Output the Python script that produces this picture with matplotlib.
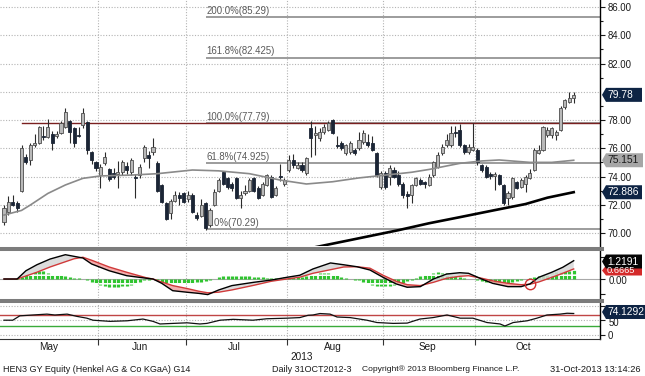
import matplotlib
matplotlib.use('Agg')
import matplotlib.pyplot as plt
import matplotlib.transforms as mtrans
from matplotlib.lines import Line2D
from matplotlib.patches import Polygon
import numpy as np

plt.rcParams['font.family'] = ['Liberation Sans', 'DejaVu Sans']

# ---------------- data ----------------
opens = [70.8, 71.5, 72.2, 72.1, 73.0, 75.4, 75.2, 76.2, 76.4, 76.9, 76.8, 77.0, 76.9, 77.1, 77.5, 77.9, 77.4, 76.95, 77.65, 77.85,
         75.7, 75.0, 74.1, 74.95, 74.5, 74.25, 74.2, 74.3, 74.75, 74.3, 74.0, 74.1, 75.3, 75.5, 75.7, 74.95, 73.4, 72.1, 71.4, 72.3,
         72.7, 72.8, 72.4, 72.7, 71.3, 71.2, 72.1, 70.55, 72.0, 73.0, 74.3, 73.9, 73.5, 73.9, 72.5, 72.8, 73.0, 73.9, 73.2, 72.7,
         73.4, 74.0, 72.7, 74.05, 73.5, 74.45, 75.2, 74.6, 74.8, 74.25, 77.4, 76.95, 76.7, 77.15, 77.3, 78.0, 76.25, 76.35, 75.65, 75.75,
         75.9, 76.0, 76.45, 76.45, 76.35, 75.65, 73.25, 74.25, 74.0, 74.45, 74.1, 73.5, 72.75, 72.7, 73.4, 73.75, 73.6, 73.4, 74.1, 74.7,
         75.65, 76.2, 76.2, 77.15, 77.3, 76.2, 75.75, 75.9, 75.9, 74.8, 74.7, 74.15, 74.05, 74.1, 73.4, 72.5, 72.55, 73.6, 73.25, 73.5,
         73.9, 74.45, 75.65, 75.9, 76.95, 76.95, 76.95, 77.3, 78.9, 79.25, 79.55]
highs = [72.0, 72.6, 72.7, 72.3, 76.2, 75.6, 76.4, 77.0, 77.6, 77.6, 78.1, 77.2, 77.2, 77.9, 78.85, 78.0, 77.5, 77.5, 78.85, 77.9,
         75.8, 75.1, 74.9, 75.7, 74.6, 74.6, 75.1, 75.2, 75.0, 75.3, 74.2, 74.9, 76.2, 75.8, 76.7, 75.1, 73.5, 72.2, 72.4, 73.0,
         72.9, 72.9, 73.0, 72.8, 71.5, 72.4, 72.2, 71.8, 73.1, 73.9, 74.4, 74.0, 73.6, 74.0, 73.0, 73.4, 73.9, 74.0, 73.3, 73.6,
         74.2, 74.1, 73.3, 74.9, 73.9, 75.5, 75.6, 75.0, 75.0, 75.4, 77.9, 77.6, 77.4, 77.7, 77.95, 78.05, 76.9, 76.5, 76.3, 76.5,
         76.0, 77.15, 77.3, 77.0, 76.9, 75.7, 74.4, 74.4, 74.8, 74.7, 74.4, 73.6, 73.0, 73.5, 74.0, 73.9, 73.7, 74.2, 75.1, 75.7,
         76.3, 77.0, 77.6, 77.6, 77.7, 76.3, 76.3, 77.8, 76.0, 74.9, 74.8, 74.3, 74.3, 74.2, 73.5, 73.0, 74.0, 73.7, 73.9, 74.1,
         74.5, 76.0, 76.2, 77.6, 77.5, 77.5, 77.3, 79.0, 79.5, 79.95, 79.95]
lows = [70.6, 71.3, 71.9, 71.5, 72.9, 74.9, 74.8, 76.1, 76.3, 76.6, 76.7, 75.9, 76.7, 77.0, 77.4, 76.4, 76.1, 76.8, 77.4, 75.6,
        74.9, 74.4, 73.2, 74.8, 73.7, 73.8, 73.2, 74.1, 74.2, 74.1, 72.5, 73.9, 75.0, 74.6, 75.5, 72.9, 72.1, 70.9, 71.0, 72.2,
        72.0, 72.1, 72.2, 71.4, 70.9, 71.1, 70.2, 70.4, 71.9, 72.9, 73.4, 73.1, 73.0, 72.4, 71.8, 72.7, 72.9, 72.9, 72.4, 72.6,
        73.3, 72.5, 72.6, 73.7, 73.3, 74.3, 74.6, 74.5, 74.3, 74.1, 75.4, 75.5, 76.5, 77.0, 77.2, 77.0, 76.0, 75.9, 75.5, 75.6,
        75.5, 75.9, 76.3, 76.1, 75.8, 74.0, 73.1, 73.1, 73.4, 73.9, 73.3, 72.5, 71.8, 72.1, 73.3, 73.4, 73.2, 73.3, 74.0, 74.6,
        75.5, 76.1, 76.1, 76.8, 76.1, 75.6, 75.6, 75.8, 74.8, 74.3, 73.9, 73.8, 73.05, 73.4, 72.0, 72.0, 72.4, 73.1, 73.2, 72.9,
        73.8, 74.4, 75.6, 75.8, 76.8, 76.7, 76.6, 77.2, 78.8, 79.2, 79.2]
closes = [71.8, 72.2, 72.0, 71.8, 76.0, 75.0, 76.2, 76.4, 77.5, 76.8, 77.5, 76.4, 77.0, 77.8, 78.6, 77.15, 76.4, 76.85, 78.5, 75.9,
          75.2, 74.6, 74.7, 75.4, 73.8, 74.0, 74.35, 75.0, 74.45, 75.2, 73.9, 74.7, 76.1, 75.3, 76.1, 73.0, 72.2, 71.0, 72.3, 72.7,
          72.5, 72.2, 72.7, 71.5, 71.05, 72.0, 70.35, 71.6, 72.9, 73.75, 73.5, 73.25, 73.2, 72.5, 72.7, 73.0, 73.75, 73.0, 72.5, 73.5,
          74.1, 72.55, 73.2, 73.95, 73.75, 75.2, 74.8, 74.8, 74.45, 75.3, 76.7, 77.05, 77.15, 77.5, 77.8, 77.1, 76.15, 76.0, 76.2, 76.35,
          75.65, 76.6, 77.1, 76.2, 75.9, 74.1, 74.25, 73.25, 74.6, 74.0, 73.5, 72.7, 72.65, 73.4, 73.9, 73.5, 73.45, 74.0, 75.0, 75.5,
          76.1, 76.6, 77.1, 77.1, 76.2, 75.7, 76.1, 76.1, 75.0, 74.45, 74.0, 74.05, 74.15, 73.5, 72.1, 72.8, 73.9, 73.2, 73.75, 74.0,
          74.25, 75.9, 75.9, 77.5, 77.3, 77.4, 77.15, 78.85, 79.4, 79.55, 79.78]

months = ['May', 'Jun', 'Jul', 'Aug', 'Sep', 'Oct']
month_start_idx = [0, 22, 42, 65, 87, 108]
n_bars = len(closes)

ma_gray_idx = [0, 4, 6, 10, 14, 18, 22, 29, 35, 43, 49, 56, 63, 69, 75, 81, 87, 93, 97, 104, 109, 113, 120, 125, 130]
ma_gray_val = [71.27, 71.6, 71.98, 72.8, 73.4, 73.87, 74.04, 74.1, 74.2, 74.46, 74.4, 74.2, 73.75, 73.47, 73.63, 73.9,
               74.1, 74.3, 74.5, 74.93, 75.1, 75.17, 75.0, 75.0, 75.15]
ma_black_idx = [66, 70, 79, 90, 97, 104, 112, 119, 124, 130]
ma_black_val = [68.75, 68.93, 69.5, 70.2, 70.69, 71.12, 71.62, 72.05, 72.5, 72.89]

fib_pct = ['200.0%', '161.8%', '100.0%', '61.8%', '0.0%']
fib_val = [85.29, 82.425, 77.79, 74.925, 70.29]
fib_start = 46
resist_val = 77.79
resist_start = 4

macd_idx = [0, 3, 5, 7.5, 10.5, 14, 16, 18, 20, 24, 28, 32.5, 34, 36, 38.5, 42, 44.5, 46.5, 49, 52,
            57, 61, 64.5, 67.5, 70.5, 74.5, 77.5, 80.5, 83.5, 86.5, 89.5, 92, 95, 98, 101, 104, 106, 109, 111.5, 115,
            118, 120, 122, 125, 127.5, 130]
macd_val = [0, 0, 0.55, 0.95, 1.33, 1.62, 1.51, 1.4, 1.0, 0.55, 0.22, 0.05, 0, -0.29, -0.78, -0.89, -0.96, -1.04, -0.73, -0.44,
            -0.22, -0.07, 0.11, 0.25, 0.67, 1.07, 0.95, 0.82, 0.6, 0.11, -0.33, -0.55, -0.51, 0.0, 0.33, 0.42, 0.38, 0.0, -0.29, -0.51,
            -0.51, -0.33, 0.11, 0.45, 0.78, 1.22]
signal_val = [0, 0, 0.2, 0.45, 0.8, 1.15, 1.35, 1.45, 1.25, 0.8, 0.45, 0.08, 0, -0.2, -0.44, -0.65, -0.82, -0.92, -0.88, -0.73,
              -0.42, -0.15, 0.0, 0.12, 0.38, 0.62, 0.8, 0.82, 0.72, 0.25, -0.15, -0.38, -0.44, -0.22, 0.05, 0.18, 0.22, 0.05, -0.12, -0.29,
              -0.38, -0.35, -0.2, 0.11, 0.38, 0.67]
hist_val = [0, 0, 0.02, 0.08, 0.15, 0.25, 0.33, 0.44, 0.52, 0.55, 0.4, 0.34, 0.3, 0.24, 0.2, 0.13, 0.08, 0.05, 0.02, -0.07,
            -0.22, -0.33, -0.42, -0.5, -0.54, -0.55, -0.55, -0.5, -0.44, -0.38, -0.3, -0.18, -0.1, -0.04, 0, -0.1, -0.2, -0.3, -0.35, -0.35,
            -0.32, -0.3, -0.28, -0.25, -0.22, -0.2, -0.15, -0.08, 0.0, 0.12, 0.2, 0.22, 0.22, 0.22, 0.2, 0.2, 0.18, 0.16, 0.14, 0.1,
            0.06, 0.04, 0.04, 0.06, 0.1, 0.12, 0.14, 0.14, 0.15, 0.2, 0.3, 0.35, 0.38, 0.38, 0.38, 0.35, 0.25, 0.15, 0.08, 0.0,
            -0.05, -0.1, -0.18, -0.28, -0.38, -0.45, -0.5, -0.5, -0.48, -0.42, -0.35, -0.25, -0.15, -0.05, 0.08, 0.18, 0.28, 0.35, 0.42, 0.44,
            0.42, 0.38, 0.3, 0.22, 0.14, 0.08, 0.03, 0.0, -0.06, -0.12, -0.18, -0.24, -0.28, -0.3, -0.3, -0.26, -0.2, -0.12, -0.05, 0.02,
            0.08, 0.15, 0.22, 0.3, 0.36, 0.4, 0.44, 0.48, 0.52, 0.56, 0.6]
cross_idx, cross_val = 120, -0.36

rsi_idx = [0, 2, 3.6, 6.6, 9.8, 11.6, 14.4, 16.7, 18.9, 20.3, 24.2, 28.1, 31.7, 34, 35.6, 38.6, 41.8, 44.7, 46.3, 49.3,
           52.3, 56.8, 60, 64.6, 67.5, 69.4, 70.5, 72.1, 74.4, 76, 79, 82.8, 85.1, 88.8, 92, 94.9, 97.9, 101.1, 104.1, 107,
           110.2, 113.2, 114.3, 116.2, 119.4, 121.6, 123.9, 126.9, 128.5, 130]
rsi_val = [51, 51, 66, 69, 72, 69, 72, 64, 58, 51, 47, 49, 55, 47, 38, 40, 42, 38, 40, 51,
           54, 51, 56, 58, 60, 68, 69, 74, 72, 62, 60, 51, 43, 40, 41, 55, 60, 69, 58, 58,
           43, 38, 31, 43, 49, 58, 69, 72, 75, 74.13]

last_close = 79.78
last_ma_gray = 75.151
last_ma_black = 72.886
last_macd = 1.2191
last_signal = 0.6665
last_rsi = 74.1292

price_ticks = [70, 72, 74, 76, 78, 82, 84, 86]   # 80.00 is hidden behind the last-price tag

# ---------------- layout ----------------
W, H = 645, 376
fig = plt.figure(figsize=(W / 100, H / 100), dpi=100)
fig.patch.set_facecolor('white')


def fr(x0, y0, x1, y1):
    return [x0 / W, 1 - y1 / H, (x1 - x0) / W, (y1 - y0) / H]


ax = fig.add_axes(fr(0, 0, 600, 246))
axm = fig.add_axes(fr(0, 251, 600, 298), sharex=ax)
axr = fig.add_axes(fr(0, 303, 600, 339), sharex=ax)

XL, XR = -0.913, 136.0
ax.set_xlim(XL, XR)
ax.set_ylim(69.08, 86.496)
axm.set_ylim(-1.267, 1.867)
axr.set_ylim(-13.8, 110.3)

bounds = [m - 0.5 for m in month_start_idx[1:]]
TXT = '#1a1a1a'
FS = 6.9

for a in (ax, axm, axr):
    a.set_facecolor('white')
    for s in ('top', 'left', 'bottom'):
        a.spines[s].set_visible(False)
    a.spines['right'].set_color('#000000')
    a.spines['right'].set_linewidth(1.0)
    a.yaxis.tick_right()
    a.set_xticks(bounds)
    a.tick_params(axis='y', which='major', direction='out', length=3.5, width=0.8,
                  labelsize=FS, pad=2, colors=TXT)
    a.tick_params(axis='x', which='both', length=0, labelbottom=False)
    for b in bounds:
        a.axvline(b, color='#b4b4b4', lw=0.8, ls=(0, (1, 1.5)), zorder=0)

axr.spines['bottom'].set_visible(True)
axr.spines['bottom'].set_color('#333333')
axr.tick_params(axis='x', which='both', length=4, direction='out', color='#333333', labelbottom=False)

# ---------------- main price panel ----------------
o = np.array(opens); h = np.array(highs); l = np.array(lows); c = np.array(closes)
idx = np.arange(n_bars)
up = c >= o
bot = np.minimum(o, c)
hgt = np.maximum(np.abs(c - o), 0.07)

ax.set_yticks(price_ticks)
ax.set_yticklabels([f'{v:.2f}' for v in price_ticks])
ax.set_yticks(np.arange(71, 86, 2), minor=True)
ax.tick_params(axis='y', which='minor', direction='out', length=2, width=0.8, colors=TXT)
for v in np.arange(70, 87, 2):
    ax.axhline(v, color='#b4b4b4', lw=0.8, ls=(0, (1, 1.5)), zorder=0)

# fib levels
for p, v in zip(fib_pct, fib_val):
    ax.plot([fib_start, XR], [v, v], color='#9c9c9c', lw=1.4, zorder=1, solid_capstyle='butt')
    ax.text(fib_start + 0.2, v + 0.09, f'{p}({v:g})', fontsize=FS, color='#5a5a5a',
            ha='left', va='bottom', zorder=1.5)
ax.plot([resist_start, XR], [resist_val, resist_val], color='#7a1f1f', lw=1.0, zorder=1.6)

# candles
ax.vlines(idx, l, h, color='#2b2b2b', lw=0.8, zorder=2)
ax.bar(idx[up], hgt[up], bottom=bot[up], width=0.7, color='#b9b9b9', edgecolor='#4d4d4d', lw=0.6, zorder=2.5)
ax.bar(idx[~up], hgt[~up], bottom=bot[~up], width=0.7, color='#1b2535', edgecolor='#1b2535', lw=0.6, zorder=2.5)

# moving averages
ax.plot(ma_gray_idx, ma_gray_val, color='#8a8a8a', lw=1.2, zorder=3)
ax.plot(ma_black_idx, ma_black_val, color='#000000', lw=1.9, zorder=3)

# ---------------- MACD panel ----------------
mi = np.array(macd_idx); mv = np.array(macd_val); sv = np.array(signal_val)
axm.axhline(0, color='#a8a8a8', lw=0.8, zorder=0.5)
axm.vlines(idx, 0, hist_val, colors='#2fc42f', lw=2.3, linestyles=(0, (1.1, 0.5)), zorder=1)
axm.fill_between(mi, mv, sv, where=mv >= sv, interpolate=True, color='#d6d6d6', alpha=0.85, lw=0, zorder=2)
axm.fill_between(mi, mv, sv, where=mv < sv, interpolate=True, color='#f4a0a0', alpha=0.85, lw=0, zorder=2)
axm.plot(mi, sv, color='#d03a3a', lw=1.0, zorder=3)
axm.plot(mi, mv, color='#000000', lw=1.0, zorder=3.2)
axm.plot([cross_idx], [cross_val], marker='o', ms=7.5, mfc='none', mec='#d03030', mew=1.0, zorder=4)
axm.set_yticks([0])
axm.set_yticklabels([''])
axm.set_yticks([-1.0, 1.5], minor=True)
axm.tick_params(axis='y', which='minor', direction='out', length=3.5, width=0.8, colors=TXT)
trm_m = mtrans.blended_transform_factory(axm.transAxes, axm.transData)
axm.text(609 / 600, -1.6 / 15, '0.00', transform=trm_m, fontsize=FS, color=TXT, ha='left', va='center', clip_on=False)

# ---------------- RSI panel ----------------
ri = np.array(rsi_idx); rv = np.array(rsi_val)
for v in (100, 50, 0):
    axr.axhline(v, color='#b4b4b4', lw=0.8, ls=(0, (1, 1.5)), zorder=0)
axr.axhline(70, color='#c04545', lw=1.0, zorder=1)
axr.axhline(30, color='#3aaa3a', lw=1.0, zorder=1)
axr.fill_between(ri, 70, rv, where=rv > 70, interpolate=True, color='#c8bcc8', lw=0, zorder=1.5)
axr.plot(ri, rv, color='#111111', lw=0.9, zorder=2)
axr.set_yticks([0, 50])
axr.set_yticklabels(['0', ''])
axr.set_yticks([100], minor=True)
axr.tick_params(axis='y', which='minor', direction='out', length=3.5, width=0.8, colors=TXT)
trm_r = mtrans.blended_transform_factory(axr.transAxes, axr.transData)
axr.text(609 / 600, 50 - 2.4 / 0.29, '50', transform=trm_r, fontsize=FS, color=TXT, ha='left', va='center', clip_on=False)


# ---------------- value tags at right ----------------
def tag(a, yval, half_h, text, fc, tc='white', x1=642, fs=FS + 0.5):
    tr = mtrans.blended_transform_factory(a.transAxes, a.transData)
    xa, xb, xc = 602 / 600, 606 / 600, x1 / 600
    poly = Polygon([(xa, yval), (xb, yval + half_h), (xc, yval + half_h), (xc, yval - half_h), (xb, yval - half_h)],
                   closed=True, transform=tr, fc=fc, ec='none', clip_on=False, zorder=10)
    a.add_patch(poly)
    a.text(607 / 600, yval, text, transform=tr, fontsize=fs, color=tc, ha='left', va='center',
           clip_on=False, zorder=11)


ppu = 246 / (86.496 - 69.08)
tag(ax, last_close, 7 / ppu, f'{last_close:.2f}', '#0e2444')
tag(ax, last_ma_gray, 7 / ppu, f'{last_ma_gray:.3f}', '#a6a6a6', tc='#1a1a1a', x1=643)
tag(ax, last_ma_black, 7 / ppu, f'{last_ma_black:.3f}', '#0e2444')
mppu = 47 / (1.867 + 1.267)
tag(axm, (279 - 270.5) / 15, 5 / mppu, f'{last_signal:.4f}', '#d42a2a', fs=FS - 0.2)
tag(axm, (279 - 261.5) / 15, 7 / mppu, f'{last_macd:.4f}', '#050505')
rppu = 36 / (110.3 + 13.8)
tag(axr, 70 + (314.7 - 312) / 0.29, 7 / rppu, f'{last_rsi:.4f}', '#0e2444', x1=645)

# separators
for yy in (248.5, 300.5):
    fig.add_artist(Line2D([0, 602 / W], [1 - yy / H, 1 - yy / H], lw=2.9, color='#7c7c7c'))

# month labels
trm = mtrans.blended_transform_factory(axr.transData, fig.transFigure)
ends = month_start_idx[1:] + [n_bars]
for name, s, e in zip(months, month_start_idx, ends):
    axr.text((s + e - 1) / 2 - 0.4, 1 - 347 / H, name, transform=trm, fontsize=FS + 0.3, color=TXT,
             ha='center', va='center', clip_on=False)
fig.text(302 / W, 1 - 357.5 / H, '2013', fontsize=FS + 0.3, color=TXT, ha='center', va='center')

# footer
fy = 1 - 369 / H
fig.text(3 / W, fy, 'HEN3 GY Equity (Henkel AG & Co KGaA) G14', fontsize=6.5, color=TXT, ha='left', va='center')
fig.text(272 / W, fy, 'Daily 31OCT2012-3', fontsize=6.5, color=TXT, ha='left', va='center')
fig.text(362 / W, fy, 'Copyright\u00ae 2013 Bloomberg Finance L.P.', fontsize=6.1, color=TXT, ha='left', va='center')
fig.text(640 / W, fy, '31-Oct-2013 13:14:26', fontsize=6.7, color=TXT, ha='right', va='center')

fig.savefig('out.png', dpi=100)
